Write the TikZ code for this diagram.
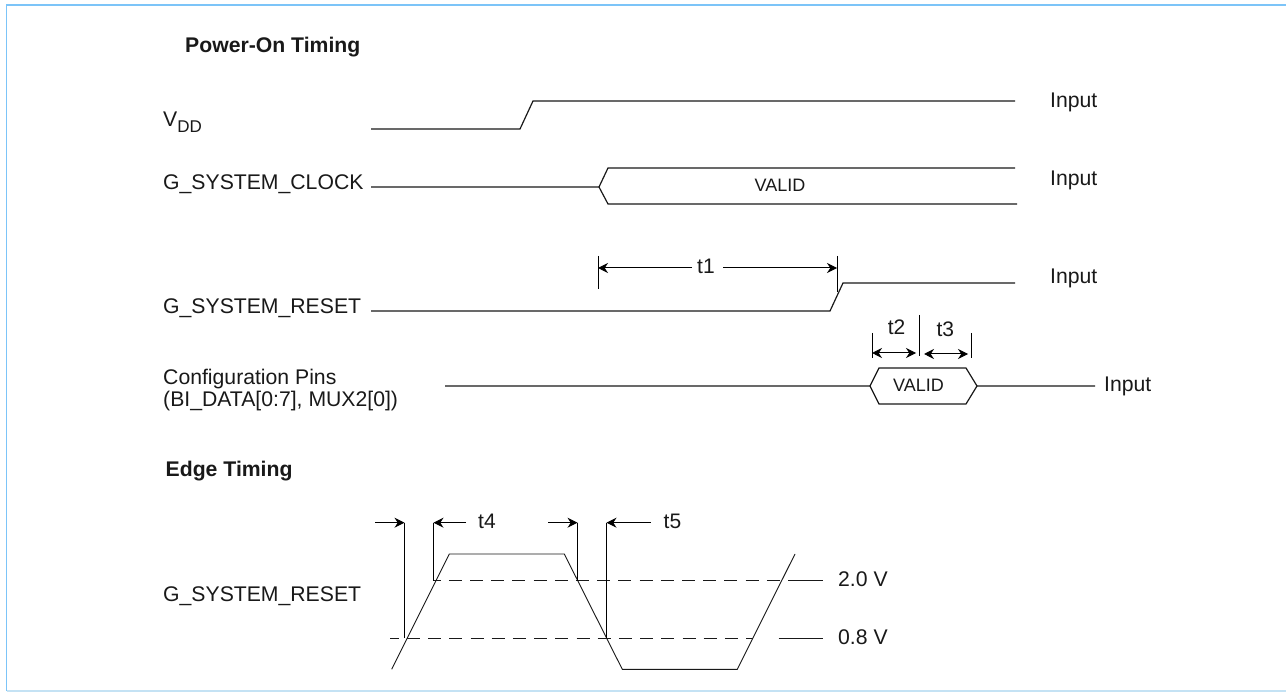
\documentclass[tikz,border=0pt]{standalone}
\usepackage{fontspec}
\setmainfont{Liberation Sans}
\usetikzlibrary{arrows.meta}
\definecolor{frameblue}{HTML}{7CC4F8}
\definecolor{framepale}{HTML}{C4E2F4}
\tikzset{
 x=1pt,y=-1pt,
 lbl/.style={inner sep=0pt,anchor=base west,font=\fontsize{21.2}{24}\selectfont,text=black!90},
 ttl/.style={lbl,font=\fontsize{21.2}{24}\selectfont\bfseries},
 sml/.style={lbl,anchor=base,font=\fontsize{21}{24}\selectfont},
 val/.style={lbl,anchor=base,font=\fontsize{18}{21}\selectfont},
 sig/.style={draw=black!90,line width=1.2pt,line join=miter},
 wave/.style={draw=black!90,line width=0.9pt},
 bar/.style={draw=black,line width=1.0pt},
 dim/.style={draw=black,line width=1.0pt,-{Stealth[length=10pt,width=10pt]}},
 dimd/.style={draw=black,line width=1.0pt,{Stealth[length=10pt,width=10pt]}-{Stealth[length=10pt,width=10pt]}},
 dsh/.style={draw=black!90,line width=1.0pt,dash pattern=on 13pt off 8.2pt},
}
\begin{document}
\begin{tikzpicture}
\useasboundingbox (0,0) rectangle (1286,692);
\fill[white] (0,0) rectangle (1286,692);
\draw[frameblue,line width=1.5pt] (6.5,691) -- (6.5,5) -- (1286,5);
\draw[framepale,line width=1.2pt] (6.5,691) -- (1286,691);
% titles and labels
\node[ttl] (ttlpower) at (185,53) {Power-On Timing};
\node[ttl] (ttledge) at (165.5,477) {Edge Timing};
\node[lbl] (lvdd) at (163,127) {V\raisebox{-6pt}{\fontsize{17}{19}\selectfont DD}};
\node[lbl] (lclk) at (163,190) {G\_SYSTEM\_CLOCK};
\node[lbl] (lrst) at (163,314) {G\_SYSTEM\_RESET};
\node[lbl] (lcfga) at (163,384.5) {Configuration Pins};
\node[lbl] (lcfgb) at (163,407) {(BI\_DATA[0:7], MUX2[0])};
\node[lbl] (lrstb) at (163,601) {G\_SYSTEM\_RESET};
\node[lbl] (ia) at (1050,108) {Input};
\node[lbl] (ib) at (1050,186) {Input};
\node[lbl] (ic) at (1050,284) {Input};
\node[lbl] (id) at (1104,392) {Input};
\node[lbl] (vhi) at (838,586) {2.0 V};
\node[lbl] (vlo) at (838,644) {0.8 V};
\node[val] (vala) at (780,192) {VALID};
\node[val] (valb) at (918.5,392) {VALID};
\node[sml] (tone) at (706,273.5) {t1};
\node[sml] (ttwo) at (896.5,335) {t2};
\node[sml] (tthree) at (945.3,336.5) {t3};
\node[sml] (tfour) at (487,529) {t4};
\node[sml] (tfive) at (672.5,529) {t5};
% signals
\draw[sig] (371,129) -- (520,129) -- (533,101) -- (1015,101);
\draw[sig] (371,187) -- (599,187) -- (608,168) -- (1015,168);
\draw[sig] (599,187) -- (608,204) -- (1017,204);
\draw[sig] (371,311) -- (830,311) -- (843,283) -- (1015,283);
\draw[sig] (445,386) -- (870,386) -- (879,368) -- (966,368) -- (977,386) -- (1095,386);
\draw[sig] (870,386) -- (879,404) -- (966,404) -- (977,386);
% dimensions power-on
\coordinate (aL) at (598,268); \coordinate (aLe) at (692,268);
\coordinate (aR) at (837,268); \coordinate (aRe) at (723,268);
\draw[bar] (598,256) -- (598,289);
\draw[bar] (837,256) -- (837,292);
\draw[dim] (aLe) -- (aL);
\draw[dim] (aRe) -- (aR);
\draw[bar] (872,333) -- (872,358);
\draw[bar] (919,315) -- (919,356);
\draw[bar] (971,333) -- (971,358);
\coordinate (bL) at (872,353); \coordinate (bR) at (916,353);
\coordinate (cL) at (924,354); \coordinate (cR) at (968,354);
\draw[dimd] (bL) -- (bR);
\draw[dimd] (cL) -- (cR);
% edge timing
\draw[wave] (391.7,669.3) -- (449.3,554) -- (564.3,554) -- (622.3,669.3) -- (737.3,669.3) -- (795,554);
\draw[dsh,dash phase=5.4pt] (433,580.5) -- (785,580.5);
\draw[dsh,dash phase=4.3pt] (390,638.5) -- (753,638.5);
\draw[wave,line width=1.1pt] (788,580.5) -- (823,580.5);
\draw[wave,line width=1.1pt] (778.7,638.5) -- (823,638.5);
\draw[bar] (404.5,522.7) -- (404.5,638);
\draw[bar] (433.5,522.7) -- (433.5,580.5);
\draw[bar] (577.5,522.7) -- (577.5,580.5);
\draw[bar] (606.5,522.7) -- (606.5,638);
\coordinate (d1) at (375,522.7); \coordinate (d1e) at (404.5,522.7);
\coordinate (d2) at (466,522.7); \coordinate (d2e) at (433.5,522.7);
\coordinate (d3) at (548,522.7); \coordinate (d3e) at (577.5,522.7);
\coordinate (d4) at (650.7,522.7); \coordinate (d4e) at (606.5,522.7);
\draw[dim] (d1) -- (d1e);
\draw[dim] (d2) -- (d2e);
\draw[dim] (d3) -- (d3e);
\draw[dim] (d4) -- (d4e);
\end{tikzpicture}
\end{document}
